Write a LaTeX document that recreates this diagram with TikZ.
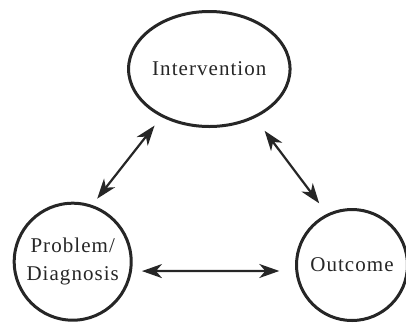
\documentclass[tikz,border=0pt]{standalone}
\usepackage{fontspec}
\setmainfont{Liberation Serif}[LetterSpace=5]
\usetikzlibrary{shapes.geometric,arrows.meta}
\definecolor{ink}{HTML}{262626}
\begin{document}
\begin{tikzpicture}[x=1pt,y=-1pt,
  stage/.style={draw=ink, line width=3pt, inner sep=0pt, text=ink,
    font=\fontsize{21}{28}\selectfont, align=center},
  link/.style={draw=ink, line width=2.2pt,
    {Stealth[length=20pt,width=14pt,inset=6pt]}-{Stealth[length=20pt,width=14pt,inset=6pt]}}]
  \useasboundingbox (0,0) rectangle (406,325);

  % the three stages
  \node[stage, ellipse, minimum width=130pt, minimum height=115pt] (int) at (209.3,69) {Intervention};
  \node[stage, circle, minimum size=117pt] (prob) at (72.7,261.7) {Problem/\\Diagnosis};
  \node[stage, circle, minimum size=111pt] (out) at (352,265) {Outcome};

  % two-way links between the stages
  \draw[link, shorten <=11pt, shorten >=8pt] (int.225.2) -- (prob.71.5);
  \draw[link, shorten <=16pt, shorten >=13pt] (int.313.5) -- (out.116.4);
  \draw[link, shorten <=10pt, shorten >=16pt] (prob.-9.8) -- (out.186.9);
\end{tikzpicture}
\end{document}
